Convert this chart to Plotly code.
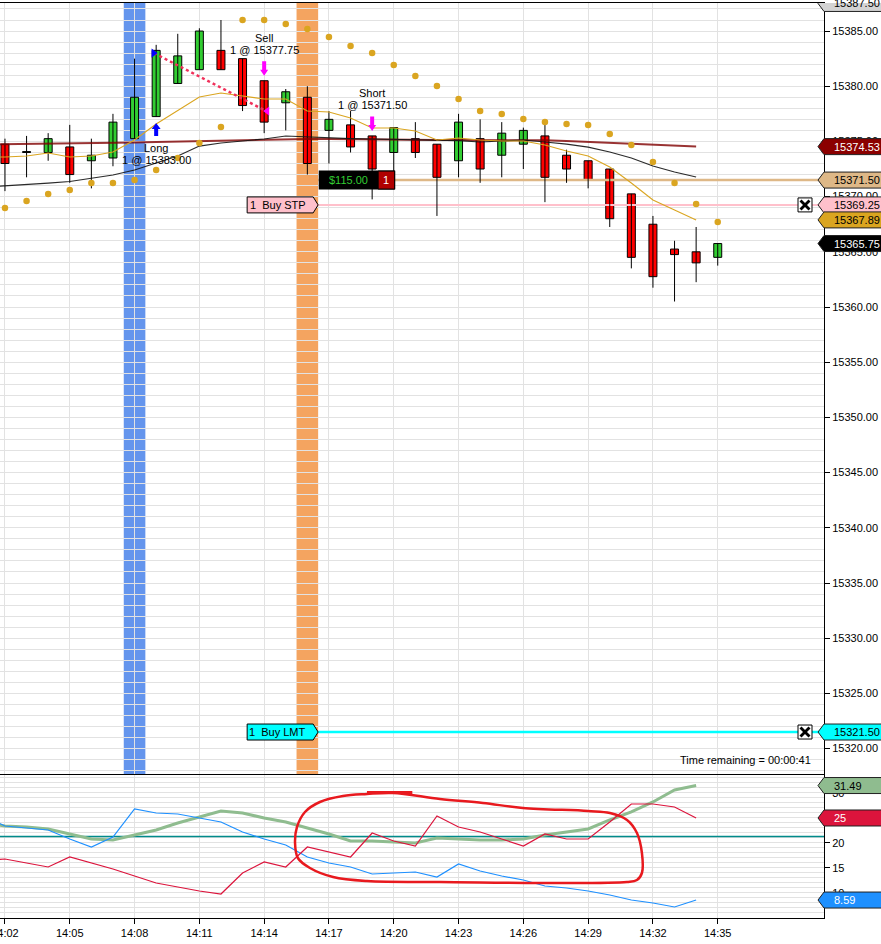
import plotly.graph_objects as go

# ------------------------------------------------------------------ data
minutes = list(range(2, 36))                     # 14:02 .. 14:35 (one-minute bars)
tick_minutes = list(range(2, 36, 3))
tick_labels = ["14:%02d" % m for m in tick_minutes]

opens = [15374.75, 15374.00, 15374.00, 15374.50, 15373.25, 15373.50, 15375.25, 15377.25, 15380.25, 15381.50,
         15383.25, 15382.50, 15380.50, 15378.50, 15379.00, 15376.00, 15376.50, 15375.50, 15374.00, 15375.25,
         15374.75, 15373.25, 15375.25, 15373.75, 15374.75, 15375.50, 15373.75, 15373.25, 15372.50, 15370.25,
         15367.50, 15365.25, 15365.00, 15364.50]
highs = [15375.25, 15375.50, 15375.75, 15376.50, 15375.25, 15377.50, 15382.50, 15383.75, 15384.75, 15385.25,
         15386.00, 15382.50, 15380.50, 15379.75, 15380.00, 15377.75, 15377.75, 15375.50, 15376.25, 15376.75,
         15374.75, 15377.50, 15377.00, 15376.75, 15376.25, 15376.50, 15374.25, 15373.25, 15372.50, 15370.25,
         15368.25, 15366.00, 15367.25, 15365.75]
lows = [15370.50, 15371.75, 15373.25, 15371.25, 15370.75, 15372.75, 15375.25, 15377.25, 15380.25, 15381.50,
        15381.50, 15377.75, 15375.75, 15376.00, 15372.00, 15373.00, 15374.00, 15369.75, 15372.00, 15373.50,
        15368.25, 15371.75, 15371.25, 15371.75, 15372.50, 15369.50, 15371.25, 15370.75, 15367.25, 15363.50,
        15361.75, 15360.50, 15362.25, 15363.75]
closes = [15373.00, 15374.00, 15375.25, 15372.00, 15373.75, 15376.75, 15379.00, 15383.25, 15382.75, 15385.00,
          15381.50, 15378.25, 15376.75, 15379.50, 15373.00, 15377.00, 15374.50, 15372.50, 15376.25, 15374.00,
          15371.75, 15376.75, 15372.50, 15375.75, 15376.00, 15371.75, 15372.50, 15371.50, 15368.00, 15364.50,
          15362.75, 15364.75, 15364.00, 15365.75]

ind_minutes = list(range(1, 35))                 # indicators on closed bars 14:01 .. 14:34
ma_fast = [15373.60, 15373.59, 15373.68, 15373.95, 15373.59, 15373.68, 15374.04, 15375.13, 15376.58, 15377.84,
           15379.02, 15379.38, 15379.11, 15378.84, 15378.84, 15377.75, 15377.66, 15377.12, 15376.21, 15376.21,
           15375.94, 15375.13, 15375.31, 15375.13, 15375.04, 15375.04, 15374.67, 15374.13, 15373.68, 15372.68,
           15371.23, 15369.69, 15368.79, 15367.89]
ma_mid = [15370.85, 15370.96, 15371.10, 15371.23, 15371.37, 15371.68, 15371.96, 15372.41, 15373.04, 15373.68,
          15374.58, 15374.86, 15375.04, 15375.22, 15375.49, 15375.40, 15375.31, 15375.26, 15375.22, 15375.17,
          15375.13, 15375.13, 15375.08, 15374.95, 15375.04, 15375.13, 15374.95, 15374.76, 15374.49, 15374.04,
          15373.50, 15372.77, 15372.23, 15371.78]
ma_slow = [15374.72, 15374.74, 15374.76, 15374.78, 15374.81, 15374.83, 15374.86, 15374.90, 15374.95, 15374.99,
           15375.04, 15375.08, 15375.13, 15375.17, 15375.20, 15375.22, 15375.22, 15375.19, 15375.16, 15375.14,
           15375.13, 15375.13, 15375.13, 15375.13, 15375.13, 15375.12, 15375.11, 15375.03, 15374.95, 15374.86,
           15374.77, 15374.69, 15374.61, 15374.53]
sar = [15368.97, 15369.60, 15370.24, 15370.60, 15371.23, 15371.23, 15371.50, 15372.41, 15373.50, 15374.86,
       15376.30, 15386.00, 15386.00, 15385.63, 15385.18, 15384.46, 15383.64, 15383.01, 15381.92, 15380.92,
       15380.02, 15378.84, 15377.75, 15377.48, 15377.03, 15376.76, 15376.58, 15376.49, 15375.67, 15374.67,
       15373.13, 15371.23, 15369.33, 15367.70]

adx = [24.0, 23.4, 23.2, 22.8, 21.8, 20.8, 20.6, 21.6, 22.6, 24.0, 25.2, 26.4, 26.0, 25.0, 24.2, 23.0, 21.8,
       20.4, 20.4, 20.2, 20.0, 21.0, 20.8, 20.6, 20.6, 20.8, 21.6, 22.2, 22.8, 24.6, 26.2, 28.2, 30.6, 31.49]
di_plus = [25.5, 23.4, 23.0, 22.6, 20.8, 19.2, 21.2, 26.8, 26.0, 25.8, 25.0, 24.2, 22.2, 20.8, 19.6, 17.2, 16.0,
           15.2, 13.8, 14.0, 14.2, 13.2, 15.8, 14.4, 13.4, 12.6, 11.4, 11.0, 10.4, 9.6, 8.6, 8.0, 7.2, 8.59]
di_minus = [16.5, 16.8, 16.0, 15.2, 17.2, 16.0, 14.8, 13.4, 12.0, 11.2, 10.4, 9.8, 14.0, 16.2, 15.2, 19.2, 18.2,
            17.2, 22.0, 20.4, 19.4, 25.4, 23.2, 22.2, 20.8, 19.4, 21.8, 20.8, 20.8, 24.2, 27.8, 27.8, 27.2, 25.0]
adx_level = 21.3

signal_long_minute = 8
signal_short_minute = 16
trades = [  # label, bar minute, fill price, label side
    ("Long", 9, 15383.00, "below"),
    ("Sell", 14, 15377.75, "above"),
    ("Short", 19, 15371.50, "above"),
]
position_price = 15371.50
position_pnl = "$115.00"
position_qty = "1"
stop_order = ("1\u00a0\u00a0Buy STP", 15369.25)
limit_order = ("1\u00a0\u00a0Buy LMT", 15321.50)
order_start = 16.5
top_price = 15387.50
time_remaining = "00:00:41"

# hand-drawn marker in the indicator pane
ellipse_x = [15.89, 16.58, 17.65, 18.76, 19.96, 22.14, 24.13, 25.98, 28.99, 30.01, 30.80, 31.26, 31.49, 31.49,
             31.26, 30.80, 22.14, 18.76, 17.19, 16.12, 15.56, 15.43, 15.52, 15.89]
ellipse_y = [26.2, 28.2, 29.4, 29.8, 30.0, 28.8, 28.0, 27.0, 26.4, 26.0, 24.6, 22.0, 18.0, 14.0,
             12.6, 12.2, 12.2, 12.4, 13.2, 15.0, 17.0, 20.0, 23.2, 26.2]

# ------------------------------------------------------------------ style
FONT = "Liberation Sans, Arial, sans-serif"
GRID = "#E2E2E2"
XMIN, XMAX = 1.77, 39.92
UP, DOWN = "#32CD32", "#FF0000"

fig = go.Figure()

def line_trace(x, y, color, width, xa="x", ya="y", dash=None, shape="linear"):
    fig.add_trace(go.Scatter(x=x, y=y, mode="lines", xaxis=xa, yaxis=ya, hoverinfo="skip",
                             line=dict(color=color, width=width, dash=dash, shape=shape)))

# order / position lines (below candles)
line_trace([order_start, XMAX], [stop_order[1]] * 2, "#FFC0CB", 2)
line_trace([order_start, XMAX], [limit_order[1]] * 2, "#00FFFF", 2.5)
line_trace([order_start, XMAX], [position_price] * 2, "#DEB887", 2.5)

# candles: wicks then bodies
wx, wy = [], []
for m, h, l in zip(minutes, highs, lows):
    wx += [m, m, None]
    wy += [l, h, None]
line_trace(wx, wy, "black", 1)
bases = [min(o, c) for o, c in zip(opens, closes)]
heights = [max(abs(c - o), 0.08) for o, c in zip(opens, closes)]
colors = [UP if c > o else (DOWN if c < o else "black") for o, c in zip(opens, closes)]
fig.add_trace(go.Bar(x=minutes, y=heights, base=bases, width=0.37,
                     marker=dict(color=colors, line=dict(color="black", width=1)), hoverinfo="skip"))

# moving averages and SAR
line_trace(ind_minutes, ma_slow, "rgba(128,0,0,0.8)", 2)
line_trace(ind_minutes, ma_mid, "rgba(20,20,20,0.9)", 1.2)
line_trace(ind_minutes, ma_fast, "#DAA520", 1.1)
fig.add_trace(go.Scatter(x=minutes, y=sar, mode="markers", hoverinfo="skip",
                         marker=dict(color="#DAA520", size=6.5, line=dict(width=0))))

# executions
entry, exit_ = trades[0], trades[1]
line_trace([entry[1] - 0.1, exit_[1] + 0.1], [entry[2], exit_[2]], "#F0305A", 2.5, dash="dot")
fig.add_trace(go.Scatter(x=[entry[1] - 0.12], y=[entry[2]], mode="markers", hoverinfo="skip",
                         marker=dict(symbol="triangle-right", color="#0000FF", size=8)))
fig.add_trace(go.Scatter(x=[exit_[1] + 0.14], y=[exit_[2]], mode="markers", hoverinfo="skip",
                         marker=dict(symbol="triangle-left", color="#FF00FF", size=8)))

# indicator pane
line_trace([XMIN, XMAX], [adx_level] * 2, "#008B8B", 1.5, "x2", "y2")
line_trace(ind_minutes, adx, "#8FBC8F", 3, "x2", "y2")
line_trace(ind_minutes, di_plus, "#1E90FF", 1.2, "x2", "y2")
line_trace(ind_minutes, di_minus, "#DC143C", 1.2, "x2", "y2")
line_trace(ellipse_x, ellipse_y, "#E8191E", 2.5, "x2", "y2", shape="spline")
line_trace([ellipse_x[3], ellipse_x[4] + 0.9], [ellipse_y[3] + 0.3, ellipse_y[4] + 0.1], "#E8191E", 3.2, "x2", "y2")

# ------------------------------------------------------------------ shapes / annotations
shapes, annotations = [], []
for m, col in [(signal_long_minute, "#6495ED"), (signal_short_minute, "#F4A460")]:
    shapes.append(dict(type="rect", xref="x", yref="y domain", x0=m - 0.5, x1=m + 0.5, y0=0, y1=1,
                       fillcolor=col, line=dict(width=0), layer="below"))

def txt(x, y, text, xref="x", yref="y", xanchor="center", yanchor="middle", xshift=0, yshift=0, color="black", size=11):
    annotations.append(dict(x=x, y=y, xref=xref, yref=yref, text=text, showarrow=False, xanchor=xanchor,
                            yanchor=yanchor, xshift=xshift, yshift=yshift,
                            font=dict(family=FONT, size=size, color=color)))

def tag(value, bg, fg, yref, text):
    shapes.append(dict(type="path", xref="paper", yref=yref, xsizemode="pixel", ysizemode="pixel", xanchor=1,
                       yanchor=value, path="M -6,0 L 0,8 L 70,8 L 70,-8 L 0,-8 Z", fillcolor=bg,
                       line=dict(color="#202020", width=1), layer="above"))
    txt(1, value, text, xref="paper", yref=yref, xanchor="left", xshift=8, color=fg)

def close_box(price):
    shapes.append(dict(type="rect", xref="paper", yref="y", xsizemode="pixel", ysizemode="pixel", xanchor=1,
                       yanchor=price, x0=-26, x1=-12, y0=-7, y1=7, fillcolor="white",
                       line=dict(color="black", width=1), layer="above"))
    for a, b in [(-4.5, 4.5), (4.5, -4.5)]:
        shapes.append(dict(type="line", xref="paper", yref="y", xsizemode="pixel", ysizemode="pixel", xanchor=1,
                           yanchor=price, x0=-23.5, x1=-14.5, y0=a, y1=b, line=dict(color="black", width=2.8),
                           layer="above"))

def order_label(order, bg):
    text, price = order
    shapes.append(dict(type="path", xref="x", yref="y", xsizemode="pixel", ysizemode="pixel", xanchor=order_start,
                       yanchor=price, path="M 0,0 L -5,8 L -71,8 L -71,-8 L -5,-8 Z", fillcolor=bg,
                       line=dict(color="black", width=1), layer="above"))
    txt(order_start, price, text, xanchor="right", xshift=-10)
    close_box(price)

order_label(stop_order, "#FFC0CB")
order_label(limit_order, "#00FFFF")

# position box
shapes.append(dict(type="rect", xref="x", yref="y", xsizemode="pixel", ysizemode="pixel", xanchor=order_start,
                   yanchor=position_price, x0=0.6, x1=77, y0=-9.5, y1=9.5, fillcolor="black", line=dict(width=0),
                   layer="above"))
shapes.append(dict(type="rect", xref="x", yref="y", xsizemode="pixel", ysizemode="pixel", xanchor=order_start,
                   yanchor=position_price, x0=60, x1=76.5, y0=-9, y1=9, fillcolor="#B00000",
                   line=dict(color="black", width=1), layer="above"))
txt(order_start, position_price, position_pnl, xshift=30.5, color="#32CD32")
txt(order_start, position_price, position_qty, xshift=68, color="white")

# trade labels and arrows
up_arrow = "M 0,-6.5 L 4.5,-12.5 L 2,-12.5 L 2,-19.5 L -2,-19.5 L -2,-12.5 L -4.5,-12.5 Z"
down_arrow = "M 0,5 L 4,11 L 2,11 L 2,19.5 L -2,19.5 L -2,11 L -4,11 Z"
for label, m, price, side in trades:
    i = minutes.index(m)
    if side == "below":
        anchor, col, path = lows[i], "#0000FF", up_arrow
        y_label, y_fill = -31.5, -43.5
    else:
        anchor, col, path = highs[i], "#FF00FF", down_arrow
        y_label, y_fill = 42.5, 30.5
    shapes.append(dict(type="path", xref="x", yref="y", xsizemode="pixel", ysizemode="pixel", xanchor=m,
                       yanchor=anchor, path=path, fillcolor=col, line=dict(width=0), layer="above"))
    txt(m, anchor, label, yshift=y_label)
    txt(m, anchor, "1 @ %.2f" % price, yshift=y_fill)

# right-hand price tags
tag(top_price, "#D3D3D3", "black", "y", "%.2f" % top_price)
tag(ma_slow[-1], "#8B0000", "white", "y", "%.2f" % ma_slow[-1])
tag(position_price, "#DEB887", "black", "y", "%.2f" % position_price)
tag(stop_order[1], "#FFC0CB", "black", "y", "%.2f" % stop_order[1])
tag(ma_fast[-1], "#DAA520", "black", "y", "%.2f" % ma_fast[-1])
tag(closes[-1], "black", "white", "y", "%.2f" % closes[-1])
tag(limit_order[1], "#00FFFF", "black", "y", "%.2f" % limit_order[1])
tag(adx[-1], "#8FBC8F", "black", "y2", "%g" % adx[-1])
tag(di_minus[-1], "#DC143C", "white", "y2", "%g" % di_minus[-1])
tag(di_plus[-1], "#1E90FF", "white", "y2", "%g" % di_plus[-1])

txt(1, 0.1727, "Time remaining = " + time_remaining, xref="paper", yref="paper", xanchor="right", xshift=-11)

# ------------------------------------------------------------------ layout
price_ticks = list(range(15320, 15390, 5))
axis_common = dict(zeroline=False, showline=True, linecolor="black", linewidth=1, gridcolor=GRID, showgrid=True,
                   automargin=False, tickfont=dict(family=FONT, size=11, color="black"))
fig.update_layout(
    width=881, height=944, margin=dict(l=0, r=57, t=3, b=26, autoexpand=False),
    paper_bgcolor="white", plot_bgcolor="white", showlegend=False, barmode="overlay", hovermode=False,
    font=dict(family=FONT, size=11, color="black"),
    shapes=shapes, annotations=annotations,
    xaxis=dict(domain=[0, 1], range=[XMIN, XMAX], anchor="y", tickmode="array", tickvals=tick_minutes,
               showticklabels=False, ticks="", mirror=True, **axis_common),
    yaxis=dict(domain=[0.1574, 1], range=[15317.70, 15387.54], anchor="x", side="right", tickmode="array",
               tickvals=price_ticks, ticktext=["%.2f" % v for v in price_ticks], ticks="outside", ticklen=5,
               tickcolor="black", ticklabeloverflow="allow",
               minor=dict(tickmode="linear", tick0=0, dtick=1, showgrid=True, gridcolor=GRID, ticks=""),
               **axis_common),
    xaxis2=dict(domain=[0, 1], range=[XMIN, XMAX], anchor="y2", tickmode="array", tickvals=tick_minutes,
                ticktext=tick_labels, ticks="outside", ticklen=5, tickcolor="black", ticklabeloverflow="allow",
                **axis_common),
    yaxis2=dict(domain=[0, 0.1563], range=[5.0, 33.6], anchor="x2", side="right", tickmode="array",
                tickvals=[10, 15, 20, 25, 30], ticktext=["10", "15", "20", "25", "30"], ticks="outside", ticklen=5,
                tickcolor="black", ticklabeloverflow="allow",
                minor=dict(tickmode="linear", tick0=0, dtick=1, showgrid=True, gridcolor=GRID, ticks=""),
                **axis_common),
)

fig.write_html("out.html", config={"displayModeBar": False, "staticPlot": True},
               post_script="document.body.style.margin='0px';document.body.style.overflow='hidden';")
